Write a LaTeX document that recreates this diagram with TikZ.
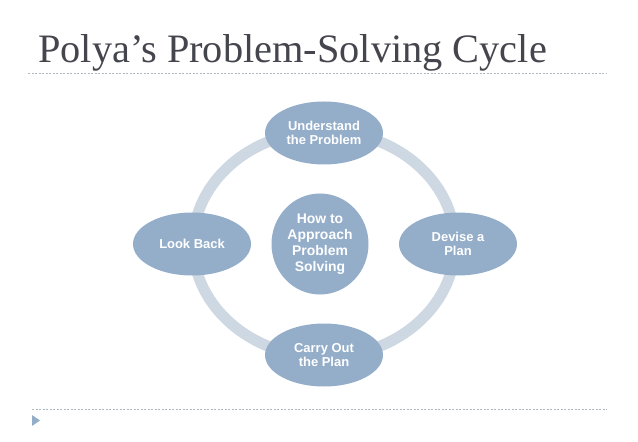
\documentclass[tikz,border=0pt]{standalone}
\usepackage{fontspec}
\setmainfont{Liberation Serif}
\newfontfamily\nodefont{Liberation Sans}
\usepackage{tikz}
\usepackage{xcolor}
\usetikzlibrary{shapes.geometric, positioning}

\definecolor{stepfill}{HTML}{94AECA}
\definecolor{ringcol}{HTML}{CED8E2}
\definecolor{titlecol}{HTML}{45454D}
\definecolor{rulecol}{HTML}{AEB8C0}

\begin{document}
\begin{tikzpicture}[x=1bp, y=-1bp,
    stage/.style={ellipse, fill=stepfill, text=white, align=center,
        minimum width=118bp, minimum height=63bp, inner sep=0pt,
        font=\nodefont\bfseries\fontsize{13}{14}\selectfont},
    hub/.style={stage, minimum width=97bp, minimum height=101bp,
        font=\nodefont\bfseries\fontsize{14}{16}\selectfont},
    rule/.style={rulecol, line width=0.8bp, dash pattern=on 2bp off 1.5bp}]
                        \useasboundingbox (0, 0) rectangle (638, 442);

                        % title and rules
                        \node[anchor=base west, inner sep=0pt, text=titlecol,
                            font=\fontsize{40.5}{44}\selectfont] (ttl) at (38, 63) {Polya’s Problem-Solving Cycle};
                        \coordinate (tl) at (28, 73);
                        \coordinate (tr) at (607, 73);
                        \coordinate (bl) at (32, 409);
                        \coordinate (br) at (607, 409);
                        \draw[rule] (tl) -- (tr);
                        \draw[rule] (bl) -- (br);
                        \fill[stepfill] (32, 415) -- (40, 420.5) -- (32, 426) -- cycle;

                        % the cycle
                        \coordinate (ctr) at (324, 244);
                        \draw[ringcol, line width=11bp] (ctr) ellipse [x radius=131, y radius=113];

                        \node[stage] (ud) at (324, 133) {Understand\\the Problem};
                        \node[stage] (dp) at (458, 244) {Devise a\\Plan};
                        \node[stage] (co) at (324, 355) {Carry Out\\the Plan};
                        \node[stage] (lb) at (192, 244) {Look Back};
                        \node[hub] (hw) at (320, 244) {How to\\Approach\\Problem\\Solving};
                    \end{tikzpicture}
\end{document}
